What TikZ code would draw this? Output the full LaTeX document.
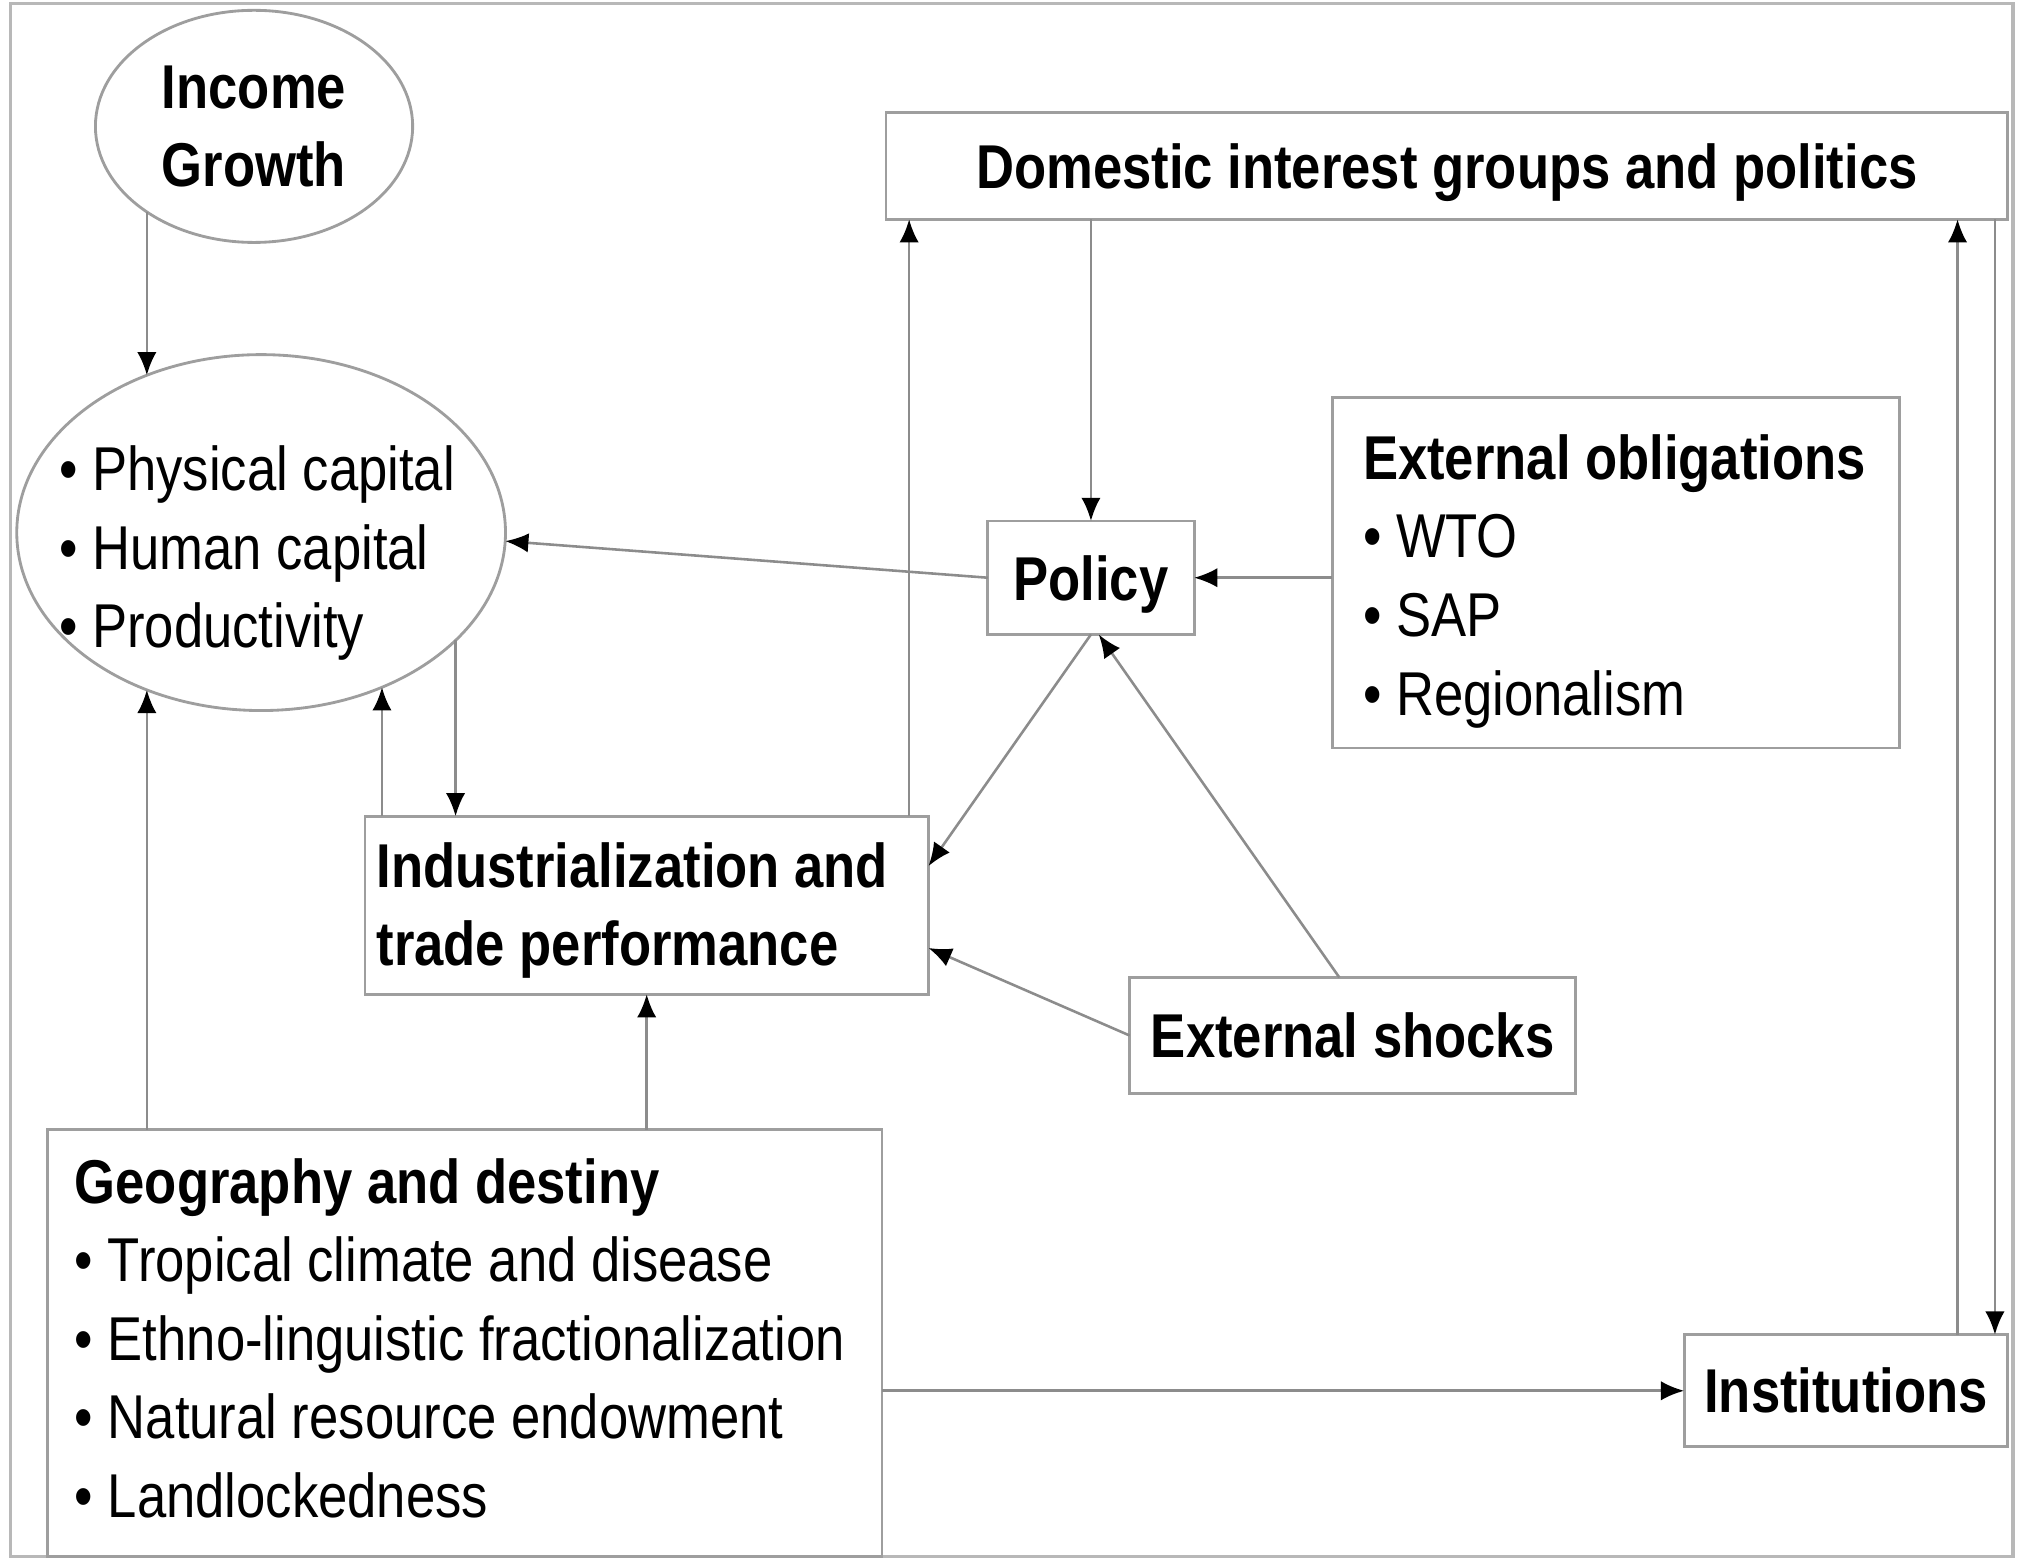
\documentclass[tikz,border=0pt]{standalone}
\usepackage{fontspec}
\setmainfont{Liberation Sans}[FakeStretch=0.85]
\usetikzlibrary{arrows.meta,shapes.geometric,calc}
\definecolor{boxgray}{gray}{0.62}
\definecolor{linegray}{gray}{0.55}
\definecolor{framegray}{gray}{0.72}
\newcommand{\dgfont}{\fontsize{48}{61}\selectfont}
\newcommand{\dgbold}{\fontsize{48}{61}\selectfont\bfseries}
\begin{document}
\begin{tikzpicture}[x=1pt,y=-1pt,
  every node/.style={outer sep=0pt, inner sep=0pt, font=\dgfont},
  box/.style={draw=boxgray, line width=2.2pt, rectangle},
  oval/.style={draw=boxgray, line width=2.2pt, ellipse},
  conn/.style={draw=linegray, line width=2pt, -{Latex[length=18pt,width=15pt,color=black]}},
]
\useasboundingbox (0,0) rectangle (1568,1209);
\draw[framegray, line width=2.5pt] (8,3) rectangle (1561,1207);

% nodes
\node[oval, minimum width=246pt, minimum height=180pt, align=center, font=\dgbold] (inc) at (197,98) {Income\\Growth};
\node[oval, minimum width=379pt, minimum height=276pt] (cap) at (202.5,413) {};
\node[anchor=west, align=left] (captxt) at (46,429) {• Physical capital\\• Human capital\\• Productivity};
\node[box, minimum width=870pt, minimum height=83pt, text depth=0pt, font=\dgbold] (dom) at (1122,128.5) {Domestic interest groups and politics};
\node[box, minimum width=160pt, minimum height=88pt, text depth=0pt, font=\dgbold] (pol) at (846,448) {Policy};
\node[box, minimum height=272pt, text width=392pt, inner xsep=24pt, align=left] (obl) at (1253,444) {\spaceskip=0pt\relax\rule{0pt}{48pt}\mbox{\textbf{External obligations}}\\\mbox{• WTO}\\\mbox{• SAP}\\\mbox{• Regionalism}};
\node[box, minimum height=138pt, text width=419pt, inner xsep=9pt, align=left, font=\dgbold] (ind) at (501.5,702) {\spaceskip=0pt\relax\rule{0pt}{43pt}\mbox{Industrialization and}\\\mbox{trade performance}};
\node[box, minimum width=346pt, minimum height=90pt, font=\dgbold] (sh) at (1049,803) {External shocks};
\node[box, minimum height=331pt, text width=605pt, inner xsep=21pt, align=left] (geo) at (360.5,1041.5) {\spaceskip=0pt\relax\mbox{\textbf{Geography and destiny}}\\\mbox{• Tropical climate and disease}\\\mbox{• Ethno-linguistic fractionalization}\\\mbox{• Natural resource endowment}\\\mbox{• Landlockedness}\rule[-8pt]{0pt}{8pt}};
\node[box, minimum width=251pt, minimum height=87pt, font=\dgbold] (inst) at (1431.5,1078.5) {Institutions};

% connectors
\draw[conn] (inc.219 -| cap.126) -- (cap.126);
\draw[conn] (cap.331) -- (cap.331 |- ind.north);
\draw[conn] (ind.north -| cap.308) -- (cap.308);
\draw[conn] (geo.north -| cap.234) -- (cap.234);
\draw[conn] (ind.south |- geo.north) -- (ind.south);
\draw[conn] (geo.east |- inst.west) -- (inst.west);
\draw[conn] (pol.west) -- (cap.358);
\draw[conn] (pol.north |- dom.south) -- (pol.north);
\draw[conn] (obl.west |- pol.east) -- (pol.east);
\draw[conn] (pol.south) -- ($(ind.north east)!0.28!(ind.south east)$);
\draw[conn] ($(sh.north west)!0.47!(sh.north east)$) -- ($(pol.south)+(6,0)$);
\draw[conn] (sh.west) -- ($(ind.north east)!0.74!(ind.south east)$);
\coordinate (indup) at ($(ind.north east)+(-15,0)$);
\draw[conn] (indup) -- (indup |- dom.south);
\coordinate (instup) at ($(inst.north east)+(-39,0)$);
\draw[conn] (instup) -- (instup |- dom.south);
\coordinate (domdn) at ($(dom.south east)+(-10,0)$);
\draw[conn] (domdn) -- (domdn |- inst.north);
\end{tikzpicture}
\end{document}
